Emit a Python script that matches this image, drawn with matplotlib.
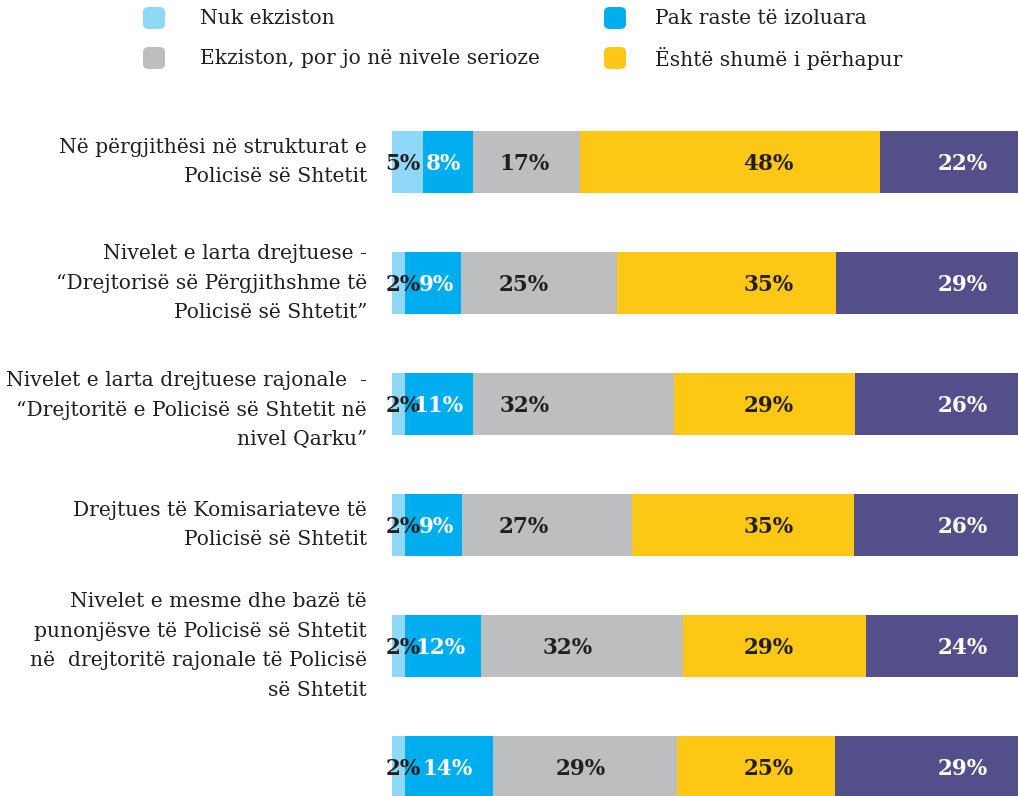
import matplotlib
matplotlib.use("Agg")
import matplotlib.pyplot as plt
from matplotlib.patches import FancyBboxPatch
import numpy as np

categories = [
    "Në përgjithësi në strukturat e\nPolicisë së Shtetit",
    "Nivelet e larta drejtuese -\n“Drejtorisë së Përgjithshme të\nPolicisë së Shtetit”",
    "Nivelet e larta drejtuese rajonale  -\n“Drejtoritë e Policisë së Shtetit në\nnivel Qarku”",
    "Drejtues të Komisariateve të\nPolicisë së Shtetit",
    "Nivelet e mesme dhe bazë të\npunonjësve të Policisë së Shtetit\nnë  drejtoritë rajonale të Policisë\nsë Shtetit",
    "",
]
series_names = ["Nuk ekziston", "Pak raste të izoluara",
                "Ekziston, por jo në nivele serioze", "Është shumë i përhapur", ""]
nuk = [5, 2, 2, 2, 2, 2]
pak = [8, 9, 11, 9, 12, 14]
ekz = [17, 25, 32, 27, 32, 29]
shume = [48, 35, 29, 35, 29, 25]
tjeter = [22, 29, 26, 26, 24, 29]

colors = ["#8fd8f8", "#00aeef", "#bcbec0", "#fdc716", "#524f8b"]
text_colors = ["#231f20", "white", "#231f20", "#231f20", "white"]

# layout: x positions (percent of bar length) where each value label is placed
LABEL_X = [
    [1.8, 1.8, 1.8, 1.8, 1.8, 1.8],
    [8.3, 7.1, 7.4, 7.1, 7.8, 8.8],
    [21.1, 21.1, 21.1, 21.1, 28.0, 30.2],
    [60.1, 60.1, 60.1, 60.1, 60.1, 60.1],
    [91.1, 91.1, 91.1, 91.1, 91.1, 91.1],
]

data = np.array([nuk, pak, ekz, shume, tjeter], dtype=float)
totals = data.sum(axis=0)
scaled = data / totals * 100.0

W, H = 1018, 796
fig = plt.figure(figsize=(W / 100, H / 100), dpi=100)
ax = fig.add_axes([392 / W, 0, 1 - 392 / W, 1])
ypos = np.arange(len(categories))
left = np.zeros(len(categories))
for k in range(5):
    ax.barh(ypos, scaled[k], left=left, height=0.512, color=colors[k], linewidth=0)
    for i in ypos:
        ax.text(LABEL_X[k][i], i + 0.02, f"{int(data[k][i])}%", ha="center",
                va="center", fontsize=15.5, fontweight="bold", family="DejaVu Serif",
                color=text_colors[k], clip_on=False)
    left += scaled[k]

ax.set_xlim(0, 100)
ax.set_ylim((796 - 162) / 121, -162 / 121)
ax.axis("off")

label_font = "DejaVu Serif"
for i, lab in enumerate(categories):
    if not lab:
        continue
    yc = 162 + 121 * i
    if i == 2:
        yc += 6
    fig.text(367 / W, 1 - yc / H, lab, ha="right", va="center", fontsize=14.6,
             family=label_font, color="#231f20", linespacing=1.7)

# legend
leg = [(143, 18, 200, series_names[0], colors[0]),
       (604, 18, 655, series_names[1], colors[1]),
       (143, 58, 200, series_names[2], colors[2]),
       (604, 58, 655, series_names[3], colors[3])]
for sx, sy, tx, name, c in leg:
    p = FancyBboxPatch((sx / W, 1 - (sy + 11) / H), 22 / W, 22 / H,
                       boxstyle="round,pad=0,rounding_size=0.006",
                       transform=fig.transFigure, facecolor=c, edgecolor="none")
    fig.patches.append(p)
    fig.text(tx / W, 1 - sy / H, name, ha="left", va="center", fontsize=14.6,
             family=label_font, color="#231f20")

fig.savefig("out.png", dpi=100)
